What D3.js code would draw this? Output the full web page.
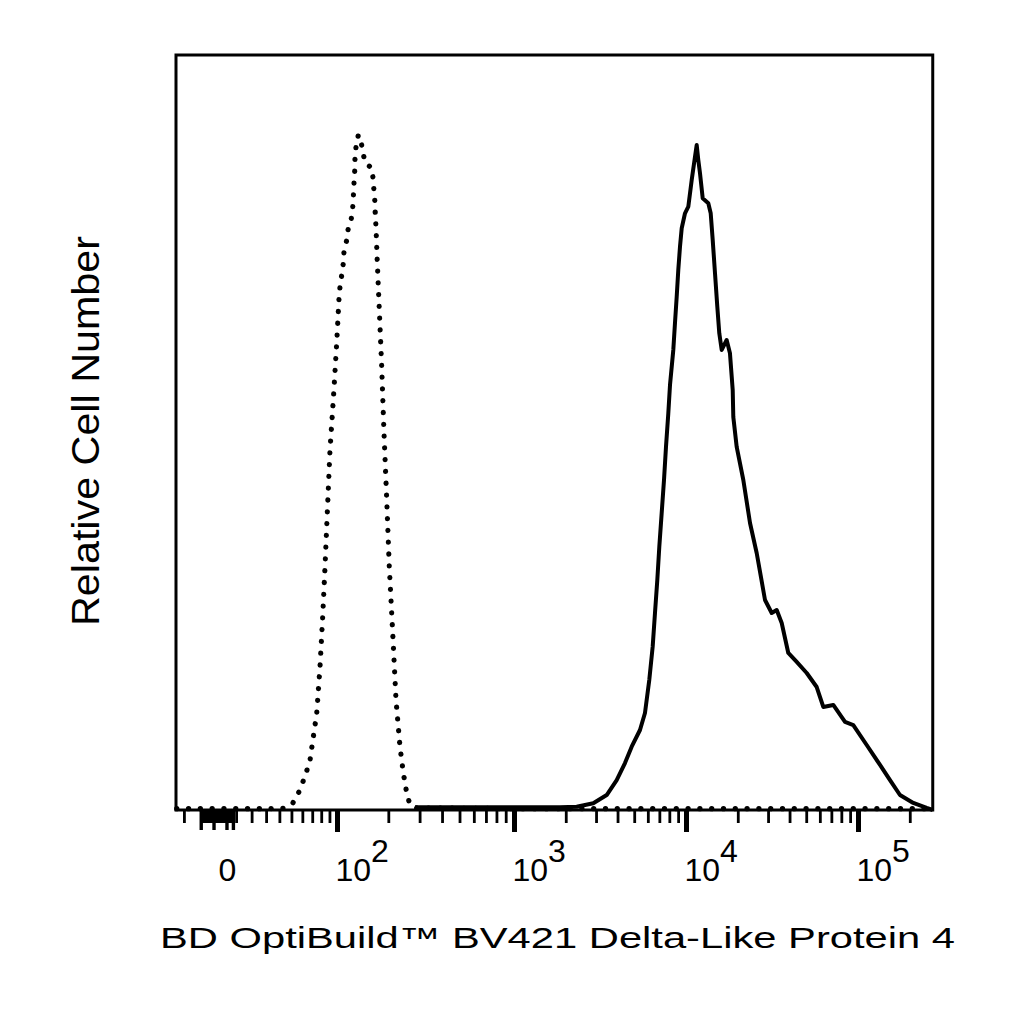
<!DOCTYPE html>
<html>
<head>
<meta charset="utf-8">
<script src="https://cdn.jsdelivr.net/npm/d3@7"></script>
<style>
  html, body { margin: 0; padding: 0; background: #fff; }
  svg { display: block; }
  text { font-family: "Liberation Sans", Arial, sans-serif; fill: #000; }
</style>
</head>
<body>
<svg id="chart" width="1024" height="1024"></svg>
<script>
// ---------------- data ----------------
// Isotype control (dotted) : fluorescence intensity vs relative cell number
const controlX = [-28, 6, 33, 43.2, 51.1, 56.2, 60.4, 64.3, 67.7, 71.2, 74.9, 78.6, 81.7, 84.5, 87.3, 90.7, 95.0, 99.6,
  102.9, 104.3, 106.9, 109.3, 110.3, 114.6, 117.1, 121.6, 124.4, 125.4, 126.7, 127.9, 128.4, 130.2, 134.3,
  138.7, 142.5, 146.9, 160.7, 164.1, 165.7, 167.9, 168.5, 170.1, 173.1, 175.4, 177.7, 183.4, 189.0, 195.9,
  202.6, 211.8, 221.1, 232.9, 243.1, 254.0, 265.1, 289, 1000, 10000, 100000, 270000];
const controlY = [0.2, 0.2, 0.2, 0.25, 0.99, 2.47, 4.1, 5.78, 7.41, 10.86, 14.33, 21.23, 28.59, 36.0, 44.0, 53.33, 60.74, 69.19,
  75.85, 77.48, 79.26, 81.04, 82.67, 84.44, 86.22, 87.33, 89.19, 90.67, 92.93, 94.71, 96.44, 98.27, 100,
  99.26, 97.67, 95.9, 95.11, 93.33, 91.56, 89.93, 88.04, 86.37, 81.04, 77.48, 74.07, 65.63, 55.85, 45.93,
  36.0, 26.22, 16.3, 9.33, 5.48, 2.52, 0.74, 0.3, 0.2, 0.2, 0.2, 0.2];

// Stained sample (solid)
const stainedX = [283, 840, 1416, 1851, 2315, 2891, 3459, 3955, 4419, 4834, 5402, 5775, 6117, 6402, 6602, 6810, 6996,
  7222, 7450, 7652, 7891, 8072, 8437, 8630, 8830, 9020, 9228, 9441, 9867, 10313, 10793, 11280, 11539,
  11790, 12061, 12506, 13480, 13920, 14298, 14746, 15205, 15616, 16127, 17236, 18014, 18688, 18840, 19712,
  21540, 23560, 25760, 28800, 31500, 33680, 36010, 39330, 44020, 50320, 57530, 62850, 71840, 84040, 93910,
  112340, 134270, 153500, 175400, 209600, 250800, 272000];
const stainedY = [0.4, 0.4, 0.4, 0.4, 0.49, 1.0, 2.22, 4.44, 6.96, 9.38, 11.85, 14.37, 19.26, 24.2, 29.18, 34.07, 39.0,
  44.0, 48.9, 53.83, 58.77, 62.96, 68.15, 72.15, 76.04, 80.0, 83.45, 86.18, 88.4, 89.38, 93.33, 96.79, 98.52,
  96.3, 94.33, 90.62, 89.88, 88.4, 84.44, 79.51, 74.56, 70.62, 68.15, 69.63, 67.66, 62.22, 58.22, 53.78,
  48.89, 42.52, 38.07, 31.11, 29.19, 29.63, 27.7, 23.26, 21.93, 20.3, 18.22, 15.26, 15.56, 13.04, 12.59,
  9.63, 6.67, 4.44, 2.22, 1.04, 0.3, 0];

// axis
const xDomain = [-28.5, 272000];
const yDomain = [0, 111.85];
const majorTicks = [100, 1000, 10000, 100000];
const minorTicks = [-23, -11, -10, -9, -8, -7, -6, -5, -3, -2, -1, 0, 1, 2, 3, 5, 6, 7, 10, 20, 30, 40, 50, 60, 70, 80, 90,
  200, 300, 400, 500, 600, 700, 800, 900,
  2000, 3000, 4000, 5000, 6000, 7000, 8000, 9000,
  20000, 30000, 40000, 50000, 60000, 70000, 80000, 90000, 200000];
const clusterTicks = [-12, -4, 4, 8];
const tickLabels = [{v: 0, base: "0", exp: ""}, {v: 100, base: "10", exp: "2"}, {v: 1000, base: "10", exp: "3"},
  {v: 10000, base: "10", exp: "4"}, {v: 100000, base: "10", exp: "5"}];
const xTitle = "BD OptiBuild\u2122 BV421 Delta-Like Protein 4";
const yTitle = "Relative Cell Number";

// ---------------- scales ----------------
const T = v => Math.asinh(v / 50);          // biexponential-like display transform
const anchors = [0, 100, 1000, 10000, 100000];
const xs = d3.scaleLinear().domain(anchors.map(T)).range([220, 337, 514, 686, 858]);
const x = v => xs(T(v));
const y = d3.scaleLinear().domain(yDomain).range([810, 55]);

const svg = d3.select("#chart");
const plotL = x(xDomain[0]), plotR = x(xDomain[1]);
const plotT = y(yDomain[1]), plotB = y(0);

// ticks via d3 axes
function addAxis(vals, size, width) {
  const g = svg.append("g").attr("transform", `translate(0,${plotB})`)
    .call(d3.axisBottom(xs).tickValues(vals.map(T)).tickSize(size).tickFormat(""));
  g.select(".domain").remove();
  g.selectAll(".tick line").attr("stroke", "#000").attr("stroke-width", width);
}
addAxis(minorTicks, 13, 2.8);
addAxis(clusterTicks, 20, 3.4);
addAxis(majorTicks, 22, 5);

// frame
svg.append("rect").attr("x", plotL).attr("y", plotT)
  .attr("width", plotR - plotL).attr("height", plotB - plotT)
  .attr("fill", "none").attr("stroke", "#000").attr("stroke-width", 3);

// tick labels
const lab = svg.append("g").attr("font-size", 32);
tickLabels.forEach(d => {
  const t = lab.append("text").attr("x", x(d.v) - 1.5).attr("y", 881);
  t.append("tspan").text(d.base);
  if (d.exp) t.append("tspan").attr("dy", -19).text(d.exp);
});

// curves
const line = d3.line().x(d => x(d[0])).y(d => y(d[1]));
svg.append("path")
  .datum(controlX.map((v, i) => [v, controlY[i]]))
  .attr("d", line).attr("fill", "none").attr("stroke", "#000")
  .attr("stroke-width", 5.2).attr("stroke-linecap", "round")
  .attr("stroke-dasharray", "0.1 11.7");
svg.append("path")
  .datum(stainedX.map((v, i) => [v, stainedY[i]]))
  .attr("d", line).attr("fill", "none").attr("stroke", "#000")
  .attr("stroke-width", 4).attr("stroke-linejoin", "round");

// titles
svg.append("text").attr("x", 160).attr("y", 948).attr("font-size", 29)
  .attr("textLength", 795).attr("lengthAdjust", "spacingAndGlyphs").text(xTitle);
svg.append("text").attr("transform", "translate(98.5,431) rotate(-90)")
  .attr("text-anchor", "middle").attr("font-size", 39)
  .attr("textLength", 390).attr("lengthAdjust", "spacingAndGlyphs").text(yTitle);
</script>
</body>
</html>
